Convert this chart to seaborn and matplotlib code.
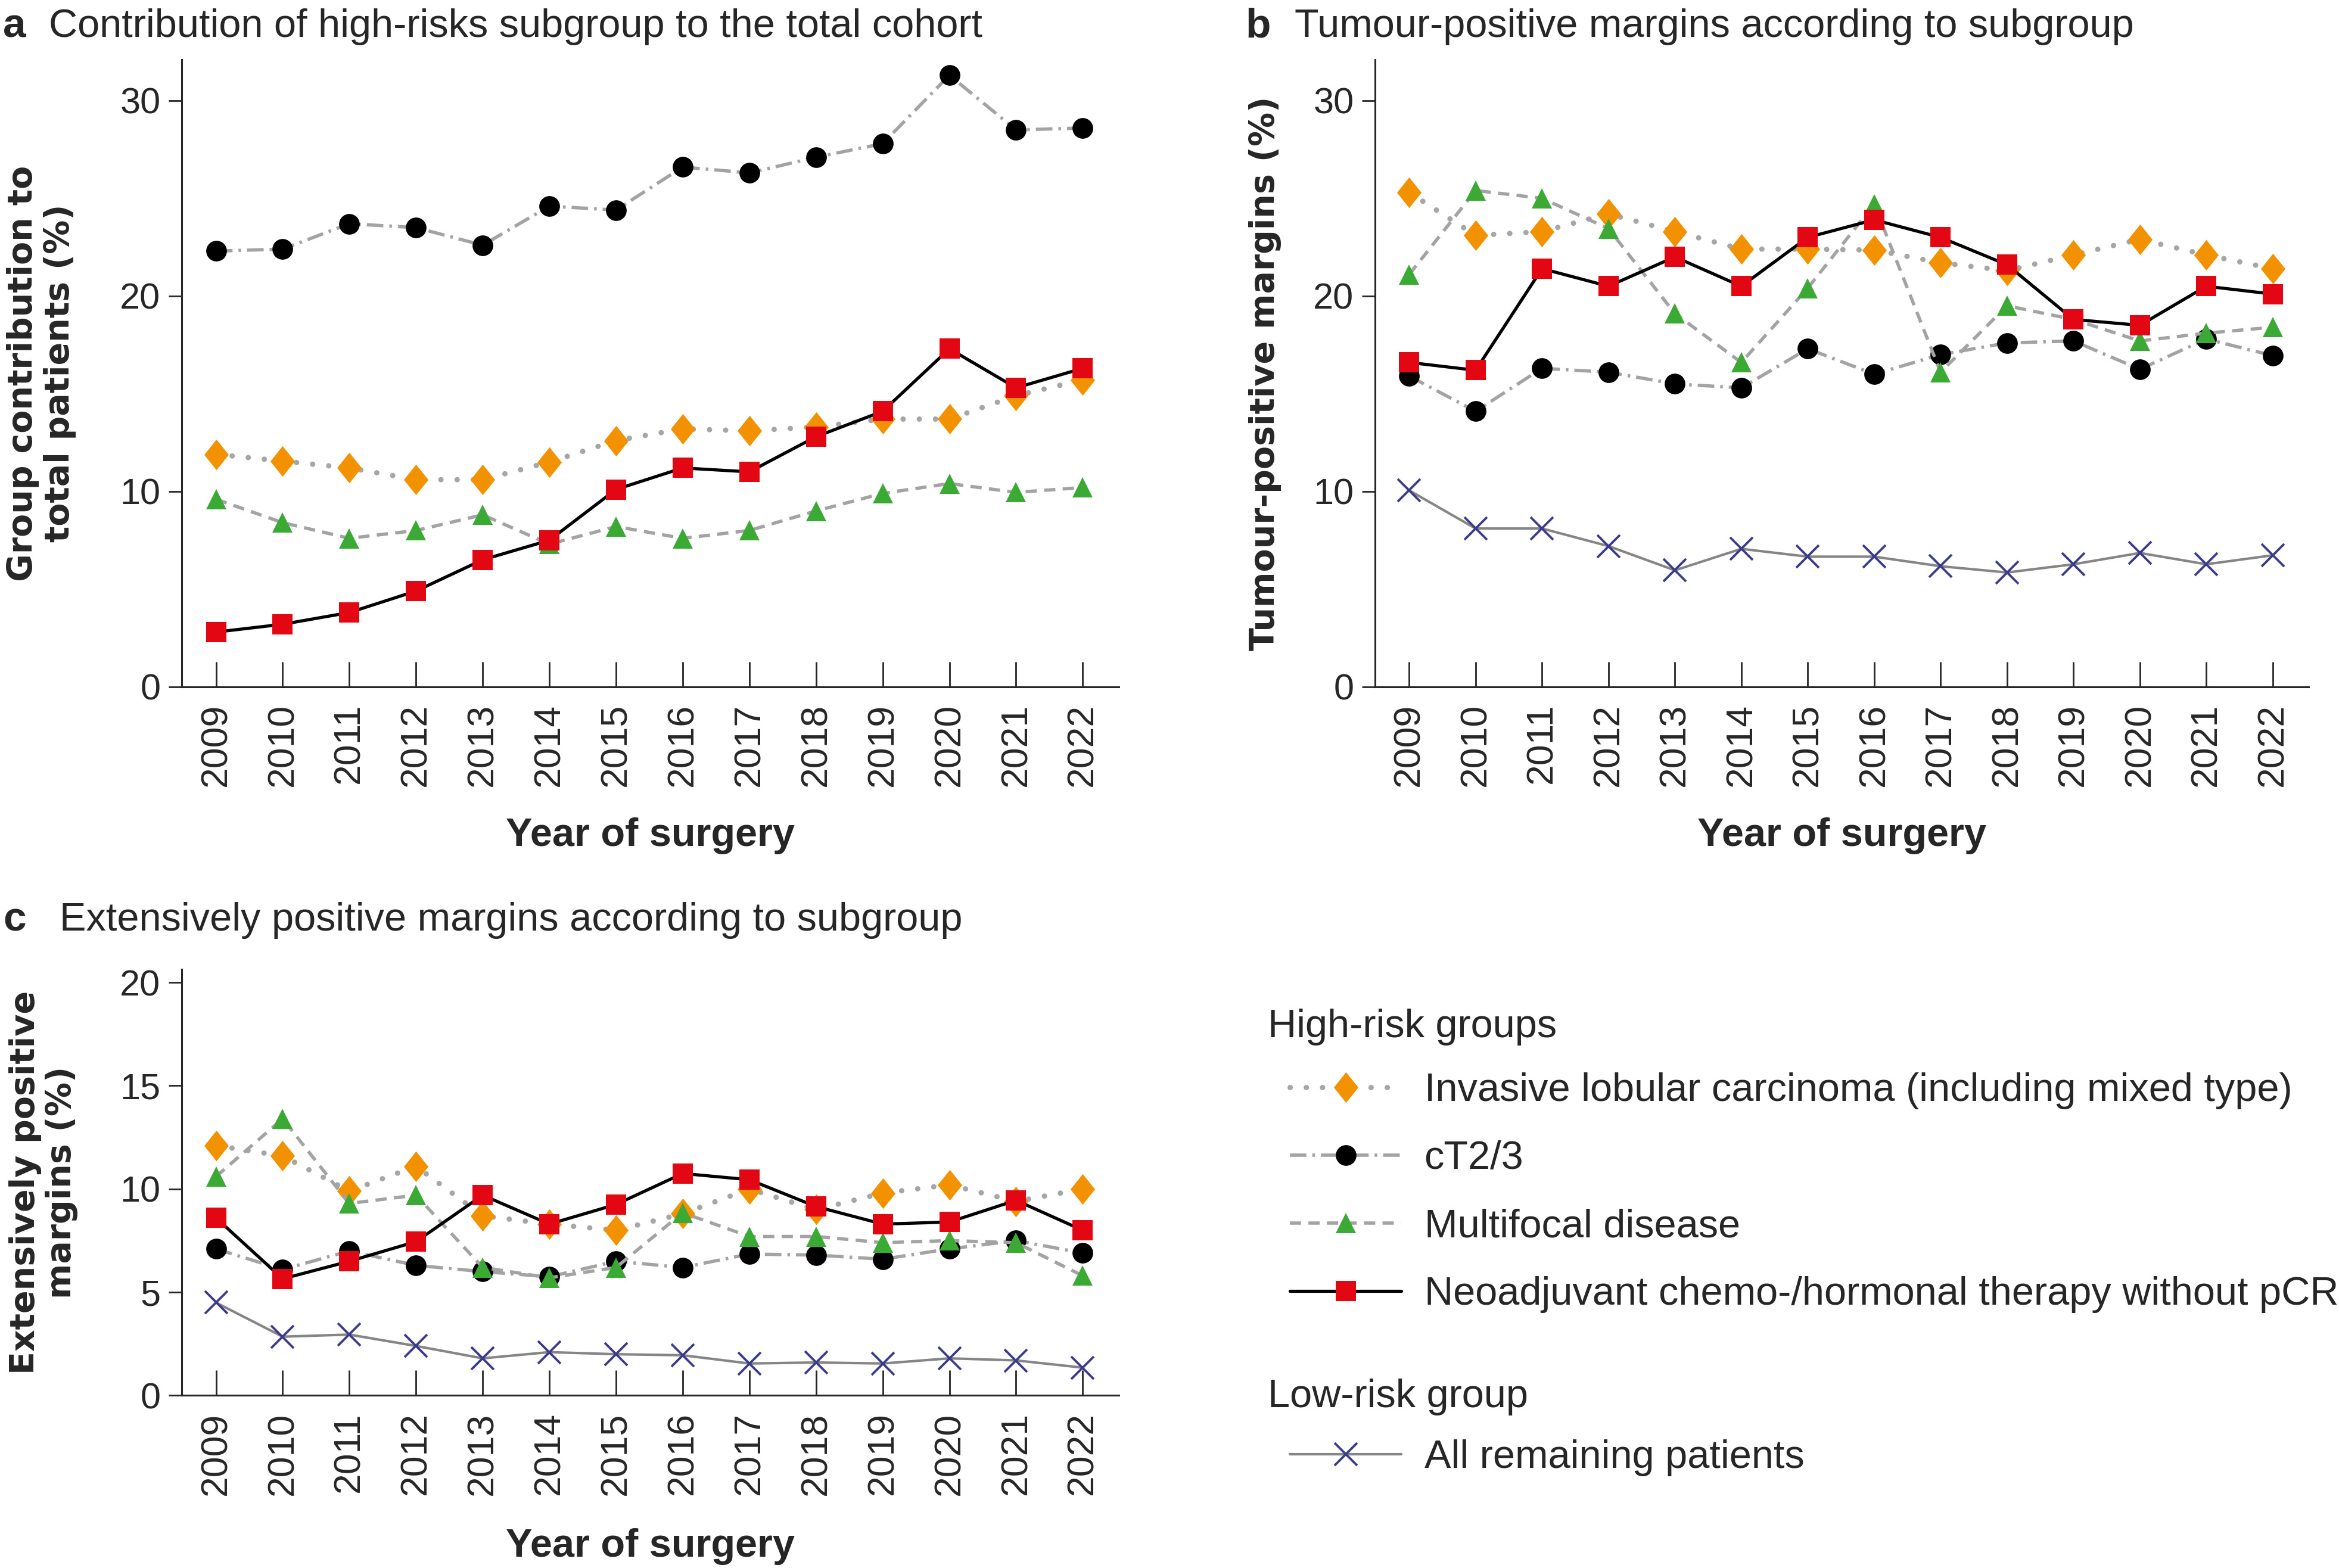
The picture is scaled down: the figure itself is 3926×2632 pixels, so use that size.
import numpy as np
import pandas as pd
import matplotlib.pyplot as plt
import seaborn as sns

# Data
years = list(range(2009, 2023))

# a: contribution of each high-risk subgroup to the total cohort (%)
contrib_ilc = [11.9, 11.55, 11.2, 10.6, 10.6, 11.5, 12.6, 13.2, 13.1, 13.3, 13.7, 13.7, 14.9, 15.7]
contrib_ct23 = [22.3, 22.4, 23.7, 23.5, 22.6, 24.6, 24.4, 26.6, 26.3, 27.1, 27.8, 31.3, 28.5, 28.6]
contrib_multi = [9.6, 8.4, 7.6, 8.0, 8.8, 7.3, 8.2, 7.6, 8.0, 9.0, 9.9, 10.4, 9.95, 10.2]
contrib_neo = [2.8, 3.2, 3.8, 4.9, 6.5, 7.5, 10.1, 11.2, 11.0, 12.8, 14.1, 17.3, 15.3, 16.3]

# b: tumour-positive margins (%)
pos_ilc = [25.3, 23.1, 23.3, 24.2, 23.3, 22.4, 22.4, 22.35, 21.7, 21.3, 22.1, 22.9, 22.1, 21.4]
pos_ct23 = [15.9, 14.1, 16.3, 16.1, 15.5, 15.3, 17.3, 16.0, 17.0, 17.6, 17.7, 16.25, 17.8, 16.95]
pos_multi = [21.1, 25.4, 25.0, 23.45, 19.1, 16.6, 20.4, 24.7, 16.1, 19.5, 18.8, 17.7, 18.1, 18.4]
pos_neo = [16.6, 16.2, 21.4, 20.5, 22.0, 20.5, 23.0, 23.9, 23.0, 21.6, 18.8, 18.5, 20.5, 20.1]
pos_rest = [10.05, 8.1, 8.1, 7.2, 5.96, 7.06, 6.66, 6.66, 6.17, 5.85, 6.27, 6.85, 6.27, 6.73]

# c: extensively positive margins (%)
ext_ilc = [12.1, 11.6, 9.9, 11.1, 8.7, 8.3, 8.0, 8.8, 10.0, 9.0, 9.8, 10.2, 9.4, 10.0]
ext_ct23 = [7.1, 6.1, 7.0, 6.3, 6.0, 5.75, 6.5, 6.2, 6.85, 6.8, 6.6, 7.1, 7.5, 6.9]
ext_multi = [10.6, 13.4, 9.3, 9.7, 6.2, 5.7, 6.2, 8.85, 7.7, 7.7, 7.4, 7.5, 7.4, 5.8]
ext_neo = [8.6, 5.65, 6.5, 7.45, 9.7, 8.3, 9.25, 10.75, 10.45, 9.15, 8.3, 8.4, 9.45, 8.0]
ext_rest = [4.5, 2.85, 2.95, 2.4, 1.8, 2.1, 2.0, 1.95, 1.55, 1.6, 1.55, 1.8, 1.7, 1.35]

labels = ["Invasive lobular carcinoma (including mixed type)", "cT2/3",
          "Multifocal disease", "Neoadjuvant chemo-/hormonal therapy without pCR",
          "All remaining patients"]

sns.set_style("ticks")
SANS = ["Liberation Sans", "DejaVu Sans"]
plt.rcParams["font.family"] = SANS

diamond = [(0, 1), (0.8, 0), (0, -1), (-0.8, 0), (0, 1)]
styles = [
    dict(color="#a6a6a6", linestyle=(0, (0.01, 3.0)), dash_capstyle="round", lw=6.5,
         marker=diamond, markersize=37, markerfacecolor="#f39200", markeredgewidth=0),
    dict(color="#a3a3a3", linestyle=(0, (5.0, 1.8, 0.8, 1.8)), lw=4.0,
         marker="o", markersize=25, markerfacecolor="black", markeredgewidth=0),
    dict(color="#a3a3a3", linestyle=(0, (3.4, 2.2)), lw=4.0,
         marker="^", markersize=25, markerfacecolor="#3aaa35", markeredgewidth=0),
    dict(color="black", linestyle="-", lw=3.8,
         marker="s", markersize=25, markerfacecolor="#e30613", markeredgewidth=0),
    dict(color="#858585", linestyle="-", lw=3.0,
         marker="x", markersize=27, markeredgecolor="#3b3b8c", markeredgewidth=2.8),
]

fig = plt.figure(figsize=(39.26, 26.32), dpi=100)
ax_a = fig.add_axes([0.0778, 0.562, 0.4005, 0.400])
ax_b = fig.add_axes([0.588, 0.562, 0.399, 0.400])
ax_c = fig.add_axes([0.0778, 0.110, 0.4005, 0.272])

panels = [
    (ax_a, [contrib_ilc, contrib_ct23, contrib_multi, contrib_neo], 32.1, [0, 10, 20, 30],
     "Group contribution to\ntotal patients (%)", -0.150),
    (ax_b, [pos_ilc, pos_ct23, pos_multi, pos_neo, pos_rest], 32.1, [0, 10, 20, 30],
     "Tumour-positive margins (%)", -0.118),
    (ax_c, [ext_ilc, ext_ct23, ext_multi, ext_neo, ext_rest], 20.65, [0, 5, 10, 15, 20],
     "Extensively positive\nmargins (%)", -0.148),
]

for ax, series, ytop, yticks, ylab, ylx in panels:
    for i, vals in enumerate(series):
        st = dict(styles[i])
        if "markeredgecolor" not in st:
            st["markeredgecolor"] = st["markerfacecolor"]
        sns.lineplot(x=years, y=vals, ax=ax, label=labels[i], legend=False, **st)
    ax.set_xlim(2008.49, 2022.54)
    ax.set_ylim(0, ytop)
    ax.set_xticks(years)
    ax.set_xticklabels([str(y) for y in years], rotation=90, fontsize=45)
    ax.set_yticks(yticks)
    ax.set_yticklabels([str(t) for t in yticks], fontsize=44)
    ax.tick_params(axis="x", direction="in", length=30, width=2, pad=20)
    ax.tick_params(axis="y", direction="out", length=16, width=2, pad=10)
    for s in ["top", "right"]:
        ax.spines[s].set_visible(False)
    for s in ["left", "bottom"]:
        ax.spines[s].set_linewidth(2.2)
    ax.set_ylabel(ylab, family=["DejaVu Sans"], fontweight="bold", fontsize=41,
                  linespacing=1.15, va="center")
    ax.yaxis.set_label_coords(ylx, 0.5)
    ax.set_xlabel("Year of surgery", fontweight="bold", fontsize=48, va="center")

ax_a.xaxis.set_label_coords(0.5, -0.238)
ax_b.xaxis.set_label_coords(0.5, -0.238)
ax_c.xaxis.set_label_coords(0.5, -0.354)

# Panel titles
for x_l, x_t, y, letter, text in [
        (0.0013, 0.021, 0.983, "a", "Contribution of high-risks subgroup to the total cohort"),
        (0.5325, 0.5536, 0.983, "b", "Tumour-positive margins according to subgroup"),
        (0.0013, 0.0255, 0.413, "c", "Extensively positive margins according to subgroup")]:
    fig.text(x_l, y, letter, fontweight="bold", fontsize=50, va="center")
    fig.text(x_t, y, text, fontsize=48, va="center")

# Legend headings and entries
fig.text(0.542, 0.345, "High-risk groups", fontsize=48, va="center")
fig.text(0.542, 0.109, "Low-risk group", fontsize=48, va="center")

lines = ax_b.get_lines()
leg_kw = dict(loc="upper left", frameon=False, fontsize=48,
              handlelength=2.8, handletextpad=0.58,
              labelspacing=0.78, borderpad=0, borderaxespad=0, numpoints=1)
leg1 = fig.legend(lines[:4], labels[:4], bbox_to_anchor=(0.5515, 0.316), **leg_kw)
leg2 = fig.legend(lines[4:5], labels[4:5], bbox_to_anchor=(0.5515, 0.082), **leg_kw)

fig.savefig("out.png", dpi=100)
